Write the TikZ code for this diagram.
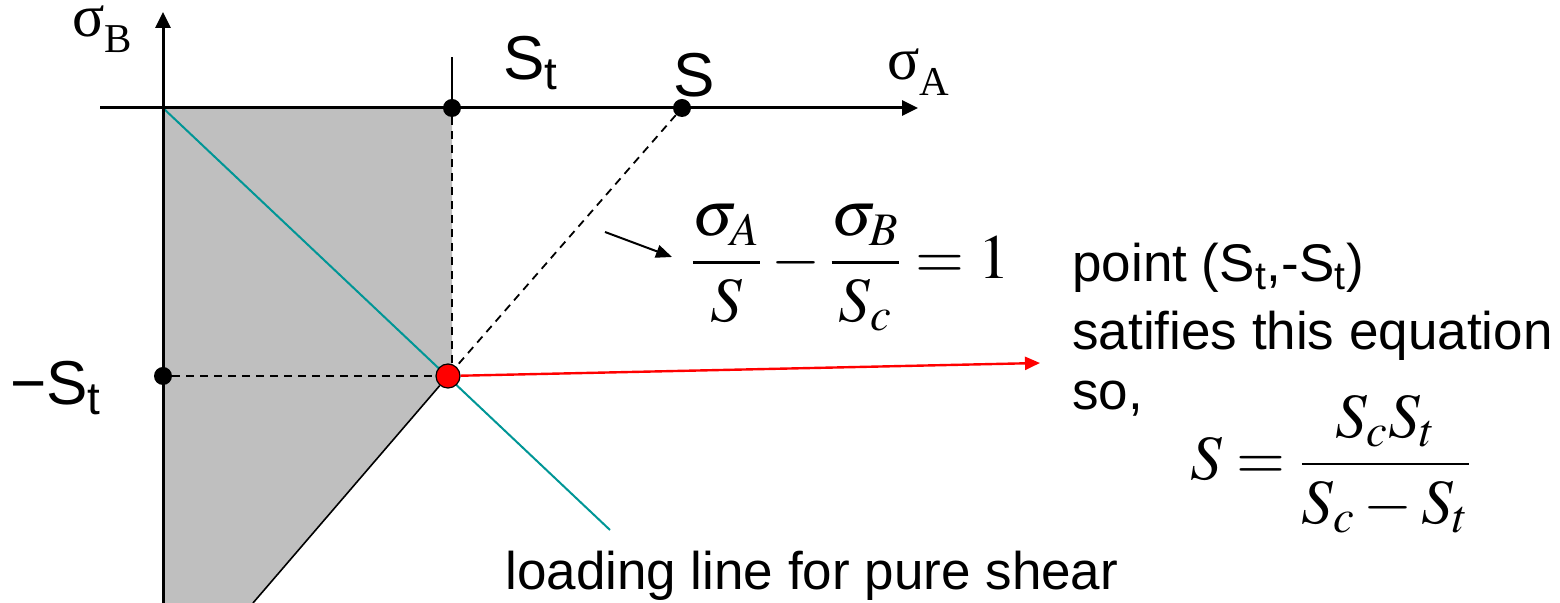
\documentclass[tikz,border=0pt]{standalone}
\usepackage{mathptmx}
\usepackage[no-math]{fontspec}
\setmainfont{Liberation Sans}
\newfontfamily\serif{Liberation Serif}
\usetikzlibrary{arrows.meta}

\definecolor{loadteal}{RGB}{0,150,150}

\begin{document}
\begin{tikzpicture}[
  x=0.5pt,
  y=-0.5pt,
  line cap=butt
]

  \useasboundingbox (0,0) rectangle (1560,603);

  % styles
  \tikzset{
    axis/.style={line width=1.5pt, -{Triangle[length=8pt,width=7.5pt]}},
    dot/.style={circle, fill=black, inner sep=0pt, minimum size=9pt},
    reddot/.style={circle, draw=black, fill=red, inner sep=0pt,
      minimum width=12pt, minimum height=10.5pt, line width=0.6pt},
    guide/.style={dashed, dash pattern=on 4pt off 3pt, line width=0.9pt},
    lbl/.style={font=\fontsize{31}{36}\selectfont, inner sep=0pt},
    txt/.style={font=\fontsize{26.5}{32}\selectfont, inner sep=0pt},
    eqn/.style={font=\fontsize{31.5}{36}\selectfont, inner sep=0pt}
  }

  % helper macro for the sigma labels
  \def\sig#1{{\serif\fontsize{30}{32}\selectfont σ\raisebox{-8pt}{\fontsize{20.5}{22}\selectfont #1}}}

  % safe region
  \fill[gray!50] (163,108) -- (452,108) -- (452,376) -- (448,376)
    -- (253,603) -- (163,603) -- cycle;

  % loading line for pure shear
  \draw[loadteal, line width=1pt] (163,108) -- (610,530);

  % axes
  \draw[axis] (163,603) -- (163,12);
  \draw[axis] (100,108) -- (918,108);

  % points
  \node[dot] (st) at (452,108) {};
  \node[dot] (s) at (682,108) {};
  \node[dot] (mst) at (163,376) {};
  \node[reddot] (p) at (448,376) {};

  % tick above S_t
  \draw[line width=1pt] (st.center) -- (452,57);

  % dashed guides
  \draw[guide] (st) -- (452,366);
  \draw[guide] (mst) -- (p);
  \draw[guide] (s) -- (p);

  % lower boundary
  \draw[line width=0.8pt] (p) -- (253,603);

  % labels
  \node[anchor=base west, inner sep=0pt] (sb) at (72,37) {\sig{B}};
  \node[anchor=base west, inner sep=0pt] (sa) at (887,80) {\sig{A}};
  \node[lbl, anchor=base west] (stl) at (503,80) {S\textsubscript{t}};
  \node[lbl, anchor=base west] (sl) at (673,97) {S};
  \node[lbl, anchor=base west] (mstl) at (10,405) {−S\textsubscript{t}};

  % failure line equation
  \coordinate (eqtail) at (605,232);
  \node[eqn, anchor=west] (eq) at (690,268)
    {$\displaystyle\frac{\sigma_A}{S}-\frac{\sigma_B}{S_c}=1$};
  \draw[line width=1pt, -{Triangle[length=8pt,width=6.5pt]}]
    (eqtail) -- (672,257);

  % explanation
  \node[txt, anchor=base west] (t1) at (1072,282) {point (S\textsubscript{t},-S\textsubscript{t})};
  \node[txt, anchor=base west] (t2) at (1072,350) {satifies this equation};
  \node[txt, anchor=base west] (t3) at (1072,410) {so,};
  \node[eqn] (res) at (1331,464) {$\displaystyle S=\frac{S_cS_t}{S_c-S_t}$};

  \coordinate (redend) at (1040,363);
  \draw[red, line width=1.2pt, -{Triangle[length=7.5pt,width=6.5pt]}]
    (p) -- (redend);

  \node[txt, anchor=base west] (load) at (505,590) {loading line for pure shear};

\end{tikzpicture}
\end{document}
